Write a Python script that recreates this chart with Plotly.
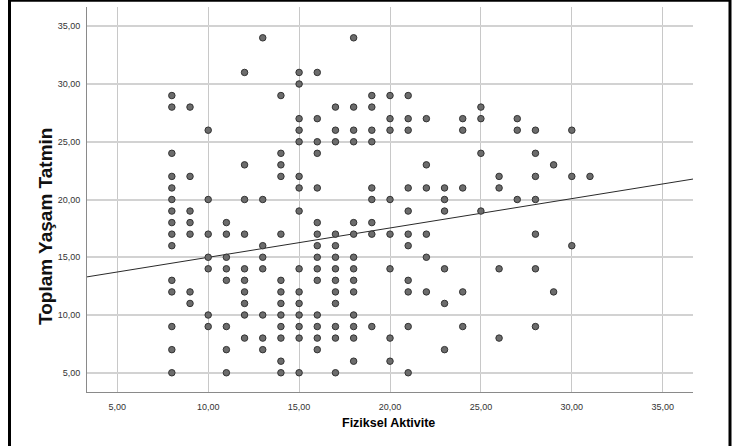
import plotly.graph_objects as go

# ---------------- data ----------------
fiziksel_x_columns = [8, 9, 10, 11, 12, 13, 14, 15, 16, 17, 18, 19, 20, 21, 22, 23, 24, 25, 26, 27, 28, 29, 30, 31]
yasam_by_column = [
    [29, 28, 24, 22, 21, 20, 19, 18, 17, 16, 13, 12, 9, 7, 5],          # 8
    [28, 22, 19, 18, 17, 12, 11],                                       # 9
    [26, 20, 17, 15, 14, 10, 9],                                        # 10
    [18, 17, 15, 14, 13, 9, 7, 5],                                      # 11
    [31, 23, 20, 17, 14, 13, 12, 11, 10, 8],                            # 12
    [34, 20, 16, 15, 14, 10, 8, 7],                                     # 13
    [29, 24, 23, 22, 17, 13, 12, 11, 10, 9, 8, 6, 5],                   # 14
    [31, 30, 27, 26, 25, 22, 21, 19, 14, 12, 11, 10, 9, 8, 5],          # 15
    [31, 27, 25, 24, 21, 18, 17, 16, 15, 14, 13, 10, 9, 8, 7],          # 16
    [28, 26, 25, 17, 16, 15, 14, 13, 12, 11, 9, 8, 5],                  # 17
    [34, 28, 26, 25, 18, 17, 15, 14, 13, 12, 10, 9, 8, 6],              # 18
    [29, 28, 26, 25, 21, 20, 18, 17, 9],                                # 19
    [29, 27, 26, 20, 17, 14, 8, 6],                                     # 20
    [29, 27, 26, 21, 19, 17, 16, 13, 12, 9, 5],                         # 21
    [27, 23, 21, 17, 15, 12],                                           # 22
    [21, 20, 19, 14, 11, 7],                                            # 23
    [27, 26, 21, 12, 9],                                                # 24
    [28, 27, 24, 19],                                                   # 25
    [22, 21, 14, 8],                                                    # 26
    [27, 26, 20],                                                       # 27
    [26, 24, 22, 20, 17, 14, 9],                                        # 28
    [23, 12],                                                           # 29
    [26, 22, 16],                                                       # 30
    [22],                                                               # 31
]

# fit line end points
fit_x = [3.333, 36.667]
fit_y = [13.30, 21.77]

x_tick_vals = [5, 10, 15, 20, 25, 30, 35]
x_tick_text = ["5,00", "10,00", "15,00", "20,00", "25,00", "30,00", "35,00"]
y_tick_vals = [5, 10, 15, 20, 25, 30, 35]
y_tick_text = ["5,00", "10,00", "15,00", "20,00", "25,00", "30,00", "35,00"]

x_title = "Fiziksel Aktivite"
y_title = "Toplam Yaşam Tatmin"

# ---------------- build ----------------
xs, ys = [], []
for xv, col in zip(fiziksel_x_columns, yasam_by_column):
    for yv in col:
        xs.append(xv)
        ys.append(yv)

W, H = 743, 446
L, R, T, B = 87, 693, 7, 392  # plot area in pixels


def px(xp):
    return (xp - L) / (R - L)


def py(yp):
    return (B - yp) / (B - T)


fig = go.Figure()
fig.add_trace(go.Scatter(
    x=fit_x, y=fit_y, mode="lines",
    line=dict(color="#2a2a2a", width=1),
    hoverinfo="skip", showlegend=False,
))
fig.add_trace(go.Scatter(
    x=xs, y=ys, mode="markers",
    marker=dict(size=6.5, color="#6c6c6c", line=dict(color="#333333", width=1)),
    showlegend=False,
))

tick_font = dict(family="Liberation Sans, Arial, sans-serif", size=9, color="#333333")
x_title_font = dict(family="Liberation Sans, Arial, sans-serif", size=12.5, color="#000000")
y_title_font = dict(family="Liberation Sans, Arial, sans-serif", size=19, color="#111111")

fig.update_layout(
    width=W, height=H,
    margin=dict(l=L, r=W - R, t=T, b=H - B, pad=0),
    paper_bgcolor="white", plot_bgcolor="white",
    xaxis=dict(
        range=[3.333, 36.667], tickmode="array", tickvals=x_tick_vals, ticktext=x_tick_text,
        showgrid=True, gridcolor="#c8c8c8", gridwidth=1,
        showline=True, linecolor="#8a8a8a", linewidth=1,
        ticks="", zeroline=False, tickfont=tick_font, ticklabelstandoff=6,
    ),
    yaxis=dict(
        range=[3.333, 36.667], tickmode="array", tickvals=y_tick_vals, ticktext=y_tick_text,
        showgrid=True, gridcolor="#d2d2d2", gridwidth=1.5,
        showline=True, linecolor="#8a8a8a", linewidth=1,
        ticks="", zeroline=False, tickfont=tick_font, ticklabelstandoff=4,
    ),
    annotations=[
        dict(text="<b>%s</b>" % x_title, xref="paper", yref="paper",
             x=px(388), y=py(423), showarrow=False, font=x_title_font,
             xanchor="center", yanchor="middle"),
        dict(text="<b>%s</b>" % y_title, xref="paper", yref="paper",
             x=px(45), y=py(226), showarrow=False, font=y_title_font, textangle=-90,
             xanchor="center", yanchor="middle"),
    ],
    shapes=[
        dict(type="line", xref="paper", yref="paper", x0=px(9.5), x1=px(9.5), y0=py(0), y1=py(446),
             line=dict(color="black", width=3)),
        dict(type="line", xref="paper", yref="paper", x0=px(8), x1=px(731), y0=py(0.8), y1=py(0.8),
             line=dict(color="black", width=2)),
        dict(type="line", xref="paper", yref="paper", x0=px(730), x1=px(730), y0=py(0), y1=py(446),
             line=dict(color="black", width=3)),
    ],
)

fig.write_html("out.html")
